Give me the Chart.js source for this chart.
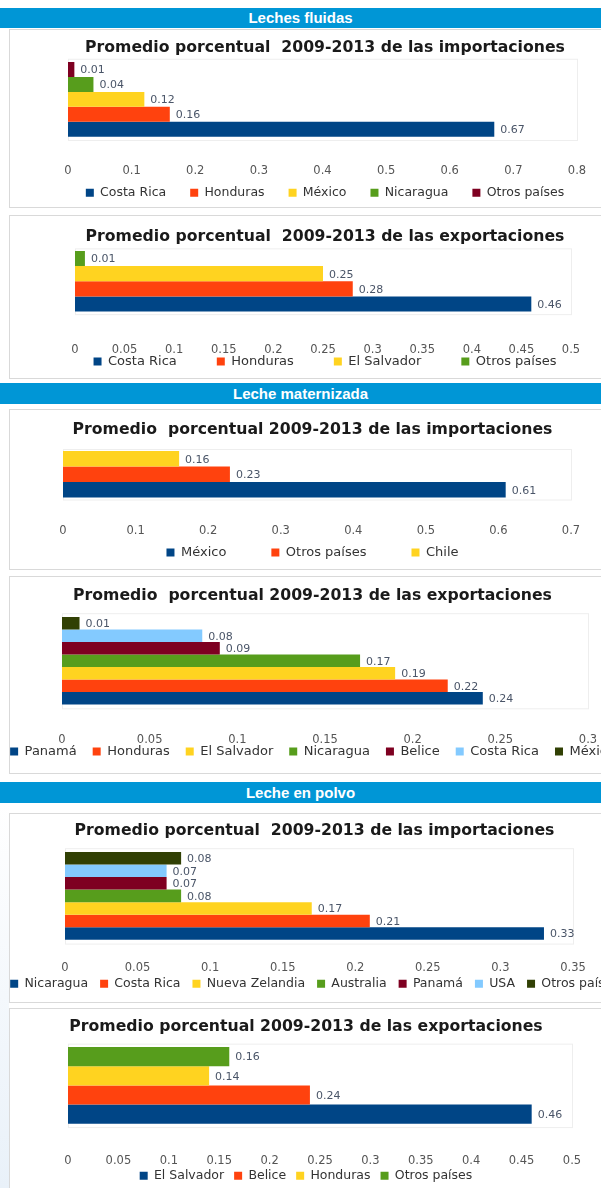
<!DOCTYPE html>
<html>
<head>
<meta charset="utf-8">
<script src="https://cdn.jsdelivr.net/npm/chart.js@4.4.1/dist/chart.umd.min.js"></script>
<style>
    body { margin: 0; background: #fff; width: 601px; height: 1188px; position: relative; overflow: hidden; }
    .franja { position: absolute; left: 0; width: 601px; background: #0096d6; color: #fff;
              font: bold 15px "Liberation Sans", Arial, sans-serif; text-align: center; }
    .caja { position: absolute; left: 9px; width: 620px; border: 1px solid #d9d9d9; box-sizing: border-box; }
    .orilla { position: absolute; left: 0; width: 9px; top: 803px; height: 385px;
              background: linear-gradient(to bottom, #ffffff, #e9f1f9); }
    canvas { position: absolute; }
</style>
</head>
<body>
<div class="franja" style="top:8px;height:20px;line-height:20px">Leches fluidas</div>
<div class="caja" style="top:29px;height:179px"></div>
<div class="caja" style="top:215px;height:164px"></div>
<div class="franja" style="top:383px;height:21px;line-height:21px">Leche maternizada</div>
<div class="caja" style="top:409px;height:161px"></div>
<div class="caja" style="top:576px;height:198px"></div>
<div class="franja" style="top:782px;height:21px;line-height:21px">Leche en polvo</div>
<div class="orilla"></div>
<div class="caja" style="top:813px;height:190px"></div>
<div class="caja" style="top:1008px;height:200px"></div>

<script>
// Leches fluidas
const fluidasImpPaises = ["Costa Rica", "Honduras", "México", "Nicaragua", "Otros países"];
const fluidasImpValores = [0.67, 0.16, 0.12, 0.04, 0.01];
const fluidasImpEscala = [0, 0.1, 0.2, 0.3, 0.4, 0.5, 0.6, 0.7, 0.8];

const fluidasExpPaises = ["Costa Rica", "Honduras", "El Salvador", "Otros países"];
const fluidasExpValores = [0.46, 0.28, 0.25, 0.01];
const fluidasExpEscala = [0, 0.05, 0.1, 0.15, 0.2, 0.25, 0.3, 0.35, 0.4, 0.45, 0.5];

// Leche maternizada
const maternizadaImpPaises = ["México", "Otros países", "Chile"];
const maternizadaImpValores = [0.61, 0.23, 0.16];
const maternizadaImpEscala = [0, 0.1, 0.2, 0.3, 0.4, 0.5, 0.6, 0.7];

const maternizadaExpPaises = ["Panamá", "Honduras", "El Salvador", "Nicaragua", "Belice", "Costa Rica", "México"];
const maternizadaExpValores = [0.24, 0.22, 0.19, 0.17, 0.09, 0.08, 0.01];
const maternizadaExpEscala = [0, 0.05, 0.1, 0.15, 0.2, 0.25, 0.3];

// Leche en polvo
const polvoImpPaises = ["Nicaragua", "Costa Rica", "Nueva Zelandia", "Australia", "Panamá", "USA", "Otros países"];
const polvoImpValores = [0.33, 0.21, 0.17, 0.08, 0.07, 0.07, 0.08];
const polvoImpEscala = [0, 0.05, 0.1, 0.15, 0.2, 0.25, 0.3, 0.35];

const polvoExpPaises = ["El Salvador", "Belice", "Honduras", "Otros países"];
const polvoExpValores = [0.46, 0.24, 0.14, 0.16];
const polvoExpEscala = [0, 0.05, 0.1, 0.15, 0.2, 0.25, 0.3, 0.35, 0.4, 0.45, 0.5];

const tituloImp = "Promedio porcentual  2009-2013 de las importaciones";
const tituloExp = "Promedio porcentual  2009-2013 de las exportaciones";

// paleta por defecto de las hojas de calculo
const colores = ["#004586", "#ff420e", "#ffd320", "#579d1c", "#7e0021", "#83caff", "#314004"];

const fuente = "'DejaVu Sans', sans-serif";

// valor al final de cada barra
const etiquetas = {
    id: "etiquetas",
    afterDatasetsDraw(chart) {
        const ctx = chart.ctx;
        ctx.save();
        ctx.font = "11px " + fuente;
        ctx.fillStyle = "#4a5568";
        ctx.textBaseline = "middle";
        chart.data.datasets.forEach((ds, i) => {
            chart.getDatasetMeta(i).data.forEach((barra, j) => {
                ctx.fillText(ds.data[j].toFixed(2), barra.x + 6, barra.y + 1);
            });
        });
        ctx.restore();
    },
};

// recuadro tenue del area de trazado
const marco = {
    id: "marco",
    beforeDatasetsDraw(chart) {
        const a = chart.chartArea;
        const ctx = chart.ctx;
        ctx.save();
        ctx.strokeStyle = "#eeeeee";
        ctx.lineWidth = 1;
        ctx.strokeRect(a.left + 0.5, a.top + 0.5, a.right - a.left, a.bottom - a.top);
        ctx.restore();
    },
};

function graficar(titulo, paises, valores, escala, pos) {
    const canvas = document.createElement("canvas");
    const tamTitulo = 15.7;
    const tamLeyenda = pos.leyenda || 12.5;
    const tamMarcas = 11.5;
    const x0 = pos.x0 || 0;
    canvas.width = pos.ancho;
    canvas.height = pos.leyendaY + tamLeyenda / 2 + 10 - pos.arriba;
    canvas.style.top = pos.arriba + "px";
    canvas.style.left = x0 + "px";
    document.body.appendChild(canvas);

    const pct = 0.92;
    const hArea = (pos.barrasAbajo - pos.barrasArriba) / pct;
    const areaArriba = (pos.barrasArriba + pos.barrasAbajo) / 2 - hArea / 2;
    const areaAbajo = areaArriba + hArea;
    const padTitulo = pos.tituloY - pos.arriba - tamTitulo * 0.6;
    const padTituloAbajo = areaArriba - pos.arriba - padTitulo - tamTitulo * 1.2;
    const padLeyenda = pos.padLeyenda;
    const altoEje = Math.max(0, pos.leyendaY - padLeyenda - tamLeyenda / 2 - areaAbajo);

    // el primer pais queda abajo: se invierte el orden de las series
    const series = paises.map((p, i) => ({
        label: p,
        data: [valores[i]],
        backgroundColor: colores[i],
        borderWidth: 0,
        categoryPercentage: pct,
        barPercentage: 1,
    })).reverse();

    new Chart(canvas.getContext("2d"), {
        type: "bar",
        data: { labels: [""], datasets: series },
        options: {
            indexAxis: "y",
            responsive: false,
            animation: false,
            devicePixelRatio: 1,
            layout: { padding: 0 },
            scales: {
                x: {
                    min: escala[0],
                    max: escala[escala.length - 1],
                    afterBuildTicks: (eje) => {
                        eje.ticks = escala.map((v) => ({ value: v }));
                    },
                    afterFit: (eje) => {
                        eje.height = altoEje;
                    },
                    grid: { display: false, drawTicks: false },
                    border: { display: false },
                    ticks: {
                        // mirror evita el recorte de las marcas a la altura del eje
                        mirror: true,
                        padding: areaAbajo - pos.marcasY - tamMarcas * 0.6,
                        color: "#555",
                        font: { family: fuente, size: tamMarcas },
                        maxRotation: 0,
                        autoSkip: false,
                        callback: (v) => String(v),
                    },
                },
                y: {
                    afterFit: (eje) => {
                        eje.width = pos.izq - x0;
                    },
                    grid: { display: false, drawTicks: false },
                    border: { display: false },
                    ticks: { display: false },
                },
                derecha: {
                    type: "linear",
                    position: "right",
                    afterFit: (eje) => {
                        eje.width = x0 + pos.ancho - pos.der;
                    },
                    grid: { display: false, drawTicks: false },
                    border: { display: false },
                    ticks: { display: false },
                },
            },
            plugins: {
                title: {
                    display: true,
                    text: titulo,
                    color: "#1a1a1a",
                    font: { family: fuente, size: tamTitulo, weight: "bold" },
                    padding: { top: padTitulo, bottom: padTituloAbajo },
                },
                legend: {
                    position: "bottom",
                    reverse: true,
                    labels: {
                        boxWidth: 8,
                        boxHeight: 8,
                        padding: padLeyenda,
                        color: "#333",
                        font: { family: fuente, size: tamLeyenda },
                    },
                },
                tooltip: { enabled: false },
            },
        },
        plugins: [marco, etiquetas],
    });
}

graficar(tituloImp, fluidasImpPaises, fluidasImpValores, fluidasImpEscala,
    { arriba: 29, ancho: 650, izq: 68, der: 577, tituloY: 48, barrasArriba: 62, barrasAbajo: 137, marcasY: 171, leyendaY: 193, padLeyenda: 24 });
graficar(tituloExp, fluidasExpPaises, fluidasExpValores, fluidasExpEscala,
    { arriba: 215, ancho: 650, izq: 75, der: 571, tituloY: 237, barrasArriba: 251, barrasAbajo: 312, marcasY: 351, leyendaY: 362, padLeyenda: 40, leyenda: 13 });
graficar("Promedio  porcentual 2009-2013 de las importaciones", maternizadaImpPaises, maternizadaImpValores, maternizadaImpEscala,
    { arriba: 409, ancho: 625, izq: 63, der: 571, tituloY: 430, barrasArriba: 451, barrasAbajo: 498, marcasY: 532, leyendaY: 553, padLeyenda: 45, leyenda: 13 });
graficar("Promedio  porcentual 2009-2013 de las exportaciones", maternizadaExpPaises, maternizadaExpValores, maternizadaExpEscala,
    { arriba: 576, x0: -10, ancho: 645, izq: 62, der: 588, tituloY: 596, barrasArriba: 617, barrasAbajo: 705, marcasY: 741, leyendaY: 752, padLeyenda: 16, leyenda: 13 });
graficar(tituloImp, polvoImpPaises, polvoImpValores, polvoImpEscala,
    { arriba: 813, x0: -8, ancho: 645, izq: 65, der: 573, tituloY: 831, barrasArriba: 852, barrasAbajo: 940, marcasY: 968, leyendaY: 984, padLeyenda: 12 });
graficar("Promedio porcentual 2009-2013 de las exportaciones", polvoExpPaises, polvoExpValores, polvoExpEscala,
    { arriba: 1008, ancho: 612, izq: 68, der: 572, tituloY: 1027, barrasArriba: 1047, barrasAbajo: 1124, marcasY: 1161, leyendaY: 1176, padLeyenda: 10 });
</script>
</body>
</html>
